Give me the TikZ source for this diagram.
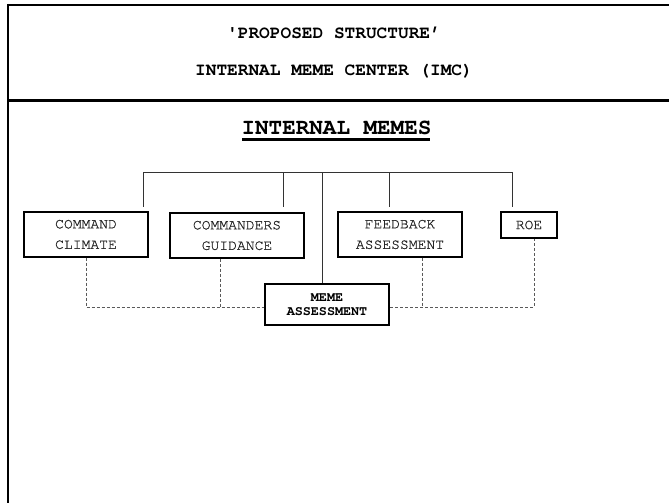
\documentclass[tikz,border=0pt]{standalone}
\usepackage{fontspec}
\newfontfamily\cour{TeX Gyre Cursor}
\newfontfamily\courmed{TeX Gyre Cursor}[FakeBold=0.8]
\begin{document}
\begin{tikzpicture}[x=1pt,y=-1pt,
  frame/.style={line width=#1,black},
  tree/.style={line width=0.9pt,draw=black!80},
  dashline/.style={line width=0.7pt,draw=black!65,dash pattern=on 3pt off 2pt},
  boxnode/.style={draw=black,line width=1.3pt,fill=white,inner sep=0pt,align=center,
    font=\courmed\fontsize{14.7}{20.5}\selectfont,text=black!85},
  memebox/.style={draw=black,line width=2.3pt,fill=white,inner sep=0pt,align=center,
    font=\cour\bfseries\fontsize{13.4}{14.5}\selectfont},
  title/.style={font=\cour\bfseries\fontsize{17.8}{20}\selectfont,inner sep=0pt}]
\useasboundingbox (0,0) rectangle (669,503);
% frame
\draw[frame=2pt] (8,5) -- (669,5);
\draw[frame=1.5pt] (8,4) -- (8,503);
\draw[frame=3pt] (8,100) -- (669,100);
% titles
\node[title] (t1) at (334,33) {'PROPOSED STRUCTURE’};
\node[title] (t2) at (334,71.7) {INTERNAL MEME CENTER (IMC)};
\node[font=\cour\bfseries\fontsize{22.6}{24}\selectfont,inner sep=0pt] (im) at (336.5,127.5) {INTERNAL MEMES};
\draw[line width=2.5pt] (242,139.5) -- (430,139.5);
% boxes
\node[boxnode,minimum width=124pt,minimum height=45pt] (cc) at (86,234.5) {COMMAND\\CLIMATE};
\node[boxnode,minimum width=134pt,minimum height=45pt] (cg) at (237,235.5) {COMMANDERS\\GUIDANCE};
\node[boxnode,minimum width=124pt,minimum height=45pt] (fa) at (400,234.5) {FEEDBACK\\ASSESSMENT};
\node[boxnode,minimum width=56pt,minimum height=26pt] (roe) at (529,225) {ROE};
\node[memebox,minimum width=124pt,minimum height=41pt] (meme) at (327,304.5) {MEME\\ASSESSMENT};
% tree
\coordinate (h1) at (143,172);
\coordinate (h2) at (283,172);
\coordinate (h3) at (322,172);
\coordinate (h4) at (389,172);
\coordinate (h5) at (512,172);
\coordinate (d1) at (143,207);
\coordinate (d2) at (283,207);
\coordinate (d4) at (389,207);
\coordinate (d5) at (512,207);
\draw[tree] (h1) -- (h5);
\draw[tree] (h1) -- (d1);
\draw[tree] (h2) -- (d2);
\draw[tree] (h4) -- (d4);
\draw[tree] (h5) -- (d5);
\draw[tree] (h3) -- (meme.north -| h3);
% dashed
\draw[dashline] (cc.south -| 86,0) -- (86,307) -- (meme.west |- 0,307);
\draw[dashline] (cg.south -| 220,0) -- (220,307);
\draw[dashline] (meme.east |- 0,307) -- (534,307) -- (roe.south -| 534,0);
\draw[dashline] (fa.south -| 422,0) -- (422,307);
\end{tikzpicture}
\end{document}
